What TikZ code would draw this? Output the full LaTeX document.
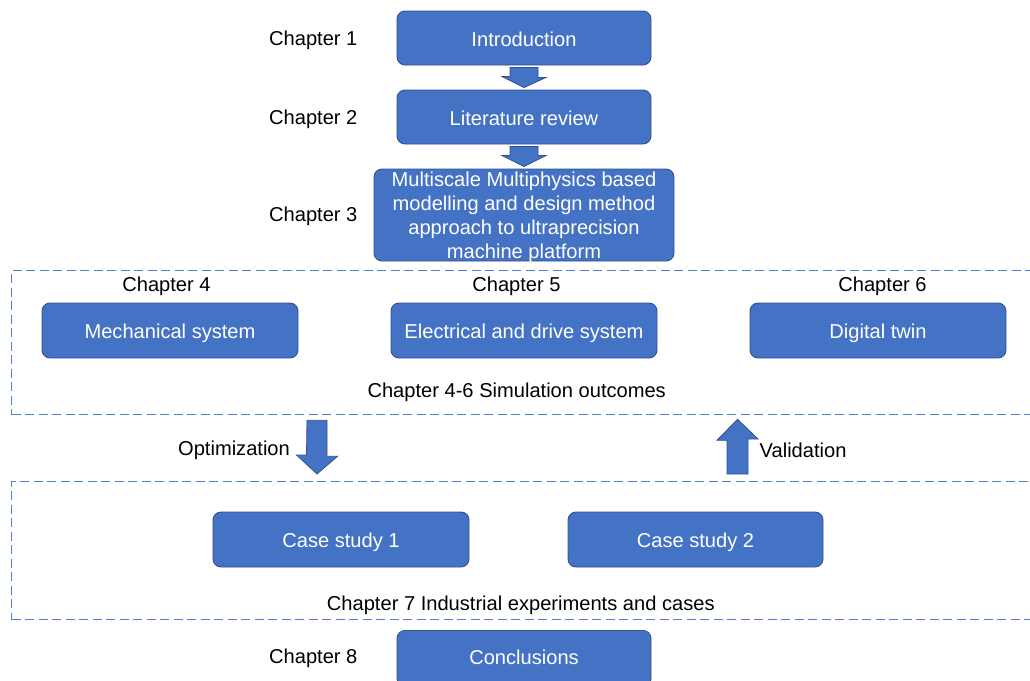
\documentclass[tikz,border=0pt]{standalone}
\usepackage{fontspec}
\setmainfont{Liberation Sans}
\usetikzlibrary{calc}
\definecolor{boxblue}{HTML}{4472C4}
\definecolor{boxline}{HTML}{2F528F}
\definecolor{dashblue}{HTML}{4F7FD0}
\newcommand\diagfont{\fontsize{20.1}{23.9}\selectfont}
\tikzset{
  % text boxes get a fixed height and no depth so that the node centre sits on the cap centre
  box/.style={draw=boxline, fill=boxblue, rounded corners=8pt, line width=0.9pt,
    text=white, font=\diagfont, inner sep=0pt, minimum height=54pt,
    text height=16.8pt, text depth=0pt},
  lbl/.style={text=black, font=\diagfont, inner sep=0pt,
    text height=14.4pt, text depth=0pt},
  frame/.style={draw=dashblue, dash pattern=on 9pt off 4.5pt, line width=1.3pt,
    inner sep=0pt, anchor=north west},
  barrow/.style={draw=boxline, fill=boxblue, line width=0.8pt, line join=miter}
}
\begin{document}
\begin{tikzpicture}[x=1pt,y=-1pt]
\useasboundingbox (0,0) rectangle (1030,680);
\clip (0,0) rectangle (1030,680);

% chapters 1-3
\node[box, minimum width=254pt] (intro) at (524,38) {Introduction};
\node[box, minimum width=254pt] (lit) at (524,117) {Literature review};
\node[box, minimum width=300pt, minimum height=92pt] (meth) at (524,215) {};
\node[inner sep=0pt, text=white, font=\diagfont, align=center] (methtext) at (524,217.4)
  {Multiscale Multiphysics based\\modelling and design method\\approach to ultraprecision\\machine platform};
\node[lbl] (c1) at (313.3,38.7) {Chapter 1};
\node[lbl] (c2) at (313.3,117.7) {Chapter 2};
\node[lbl] (c3) at (313.3,213.8) {Chapter 3};

% block arrows between the first three boxes
\draw[barrow] ($(intro.south)+(-14,2)$) -- ++(28,0) -- ++(0,10) -- ++(8,0)
  -- ($(lit.north)+(0,-2)$) -- ++(-22,-11) -- ++(8,0) -- cycle;
\draw[barrow] ($(lit.south)+(-14,2)$) -- ++(28,0) -- ++(0,9) -- ++(8,0)
  -- ($(meth.north)+(0,-2)$) -- ++(-22,-11) -- ++(8,0) -- cycle;

% simulation chapters
\node[frame, minimum width=1040pt, minimum height=144pt] (sim) at (11,270) {};
\node[lbl] (c4) at (166.5,284.5) {Chapter 4};
\node[lbl] (c5) at (516.5,284.5) {Chapter 5};
\node[lbl] (c6) at (882.5,284.5) {Chapter 6};
\node[box, minimum width=256pt, minimum height=55pt] (mech) at (170,330.5) {Mechanical system};
\node[box, minimum width=266pt, minimum height=55pt] (elec) at (524,330.5) {Electrical and drive system};
\node[box, minimum width=256pt, minimum height=55pt] (twin) at (878,330.5) {Digital twin};
\node[lbl] (simout) at (516.7,390.5) {Chapter 4-6 Simulation outcomes};

% industrial cases
\node[frame, minimum width=1040pt, minimum height=138pt] (ind) at (11,481) {};
\node[box, minimum width=256pt, minimum height=55pt] (case1) at (341,539.5) {Case study 1};
\node[box, minimum width=255pt, minimum height=55pt] (case2) at (695.5,539.5) {Case study 2};
\node[lbl] (indout) at (520.8,603.5) {Chapter 7 Industrial experiments and cases};

% optimization / validation arrows between the frames
\coordinate (opttop) at (sim.south -| 317,0);
\coordinate (optbot) at (ind.north -| 317,0);
\draw[barrow] ($(opttop)+(-10,5)$) -- ++(20,0) -- ++(0,36) -- ++(10.5,0)
  -- ($(optbot)+(0,-7)$) -- ++(-20.5,-19) -- ++(10,0) -- cycle;
\node[lbl] (opt) at (234,448.5) {Optimization};

\coordinate (valtop) at (sim.south -| 737.5,0);
\coordinate (valbot) at (ind.north -| 737.5,0);
\draw[barrow] ($(valbot)+(-10.5,-7)$) -- ++(21,0) -- ++(0,-35) -- ++(10,0)
  -- ($(valtop)+(0,4)$) -- ++(-20.5,21) -- ++(10,0) -- cycle;
\node[lbl, anchor=west] (val) at (759.5,450) {Validation};

% conclusions
\node[box, minimum width=254pt, minimum height=56pt, anchor=north] (concl) at (524,630) {};
\node[lbl, text=white] (concltext) at (524,657) {Conclusions};
\node[lbl] (c8) at (313.3,656.7) {Chapter 8};
\end{tikzpicture}
\end{document}
